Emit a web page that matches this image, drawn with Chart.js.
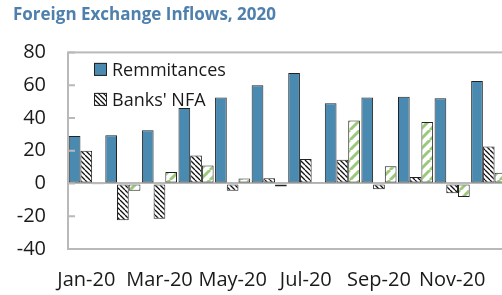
<!DOCTYPE html>
<html>
<head>
<meta charset="utf-8">
<script src="https://cdn.jsdelivr.net/npm/chart.js@4"></script>
<style>
    html, body { margin: 0; padding: 0; background: #fff; overflow: hidden; }
    #wrap { width: 512px; height: 295px; }
</style>
</head>
<body>
<div id="wrap"><canvas id="chart" width="512" height="295"></canvas></div>
<script>
/* Foreign exchange inflows 2020: barras agrupadas com hachuras, legenda dentro da área. */
var MESES = ["Jan-20", "Feb-20", "Mar-20", "Apr-20", "May-20", "Jun-20",
             "Jul-20", "Aug-20", "Sep-20", "Oct-20", "Nov-20", "Dec-20"];
var REMESSAS = [29, 29.5, 32.5, 46, 52.5, 60, 67.5, 49, 52.5, 53, 52, 62.5];
var BANKS_NFA = [20, -22.5, -21.5, 17, -4.5, 3.2, 15, 14.5, -3.5, 4, -6, 22.5];
var OUTROS = [-0.5, -4.5, 7, 11, 3, -1.8, 0.4, 38.5, 10.5, 37.5, -8.3, 6.5];
var Y_TICKS = [-40, -20, 0, 20, 40, 60, 80];

var AZUL = "#4a8ab0";
var VERDE = "#9bc97a";
var CINZA = "#b9b9b9";
var FONTE = "'Open Sans', 'Noto Sans', sans-serif";

function hachura(cor, largura, passo, inverte) {
    var c = document.createElement("canvas");
    c.width = passo; c.height = passo;
    var g = c.getContext("2d");
    g.fillStyle = "#fff";
    g.fillRect(0, 0, passo, passo);
    g.strokeStyle = cor;
    g.lineWidth = largura;
    g.beginPath();
    for (var k = -1; k <= 1; k++) {
        if (inverte) { // "\" 
            g.moveTo(k * passo, 0); g.lineTo(k * passo + passo, passo);
        } else {       // "/"
            g.moveTo(k * passo, passo); g.lineTo(k * passo + passo, 0);
        }
    }
    g.stroke();
    return g.createPattern(c, "repeat");
}

var ctx = document.getElementById("chart").getContext("2d");
var padraoNfa = hachura("#111", 1.3, 5, true);
var padraoVerde = hachura(VERDE, 3, 10, false);

var moldura = {
    id: "moldura",
    afterDatasetsDraw: function (chart) {
        var a = chart.chartArea, c = chart.ctx, y = chart.scales.y;
        c.save();
        c.strokeStyle = CINZA;
        c.lineWidth = 2;
        c.strokeRect(a.left, a.top, a.right - a.left, a.bottom - a.top);
        c.beginPath();
        Y_TICKS.forEach(function (v) {
            var py = y.getPixelForValue(v);
            c.moveTo(a.left, py); c.lineTo(a.left + 7, py);
        });
        c.stroke();
        c.restore();
    }
};

var legenda = {
    id: "legendaInterna",
    afterDraw: function (chart) {
        var a = chart.chartArea, c = chart.ctx;
        var itens = chart.data.datasets.slice(0, 2);
        c.save();
        c.font = "18px " + FONTE;
        c.textBaseline = "middle";
        itens.forEach(function (ds, i) {
            var x = a.left + 26, yc = a.top + 17 + i * 30;
            c.fillStyle = ds.backgroundColor;
            c.fillRect(x, yc - 6.5, 13, 13);
            c.strokeStyle = "#222";
            c.lineWidth = 1;
            c.strokeRect(x + 0.5, yc - 6, 12, 12);
            c.fillStyle = "#1a1a1a";
            c.fillText(ds.label, x + 18, yc + 1);
        });
        c.restore();
    }
};

new Chart(ctx, {
    type: "bar",
    data: {
        labels: MESES,
        datasets: [
            { label: "Remmitances", data: REMESSAS, backgroundColor: AZUL },
            { label: "Banks' NFA", data: BANKS_NFA, backgroundColor: padraoNfa },
            { label: "", data: OUTROS, backgroundColor: padraoVerde }
        ]
    },
    options: {
        responsive: false,
        animation: false,
        layout: { padding: { left: 13, right: 5, top: 0, bottom: 0 } },
        datasets: {
            bar: {
                borderColor: "#222",
                borderWidth: 1,
                borderSkipped: false,
                categoryPercentage: 0.96,
                barPercentage: 1.0
            }
        },
        plugins: {
            legend: { display: false },
            tooltip: { enabled: false },
            title: {
                display: true,
                text: "Foreign Exchange Inflows, 2020",
                align: "start",
                color: "#4f80ad",
                font: { family: FONTE, size: 17, weight: "bold" },
                padding: { top: 5, bottom: 27 }
            }
        },
        scales: {
            x: {
                grid: { display: false, drawTicks: false },
                border: { display: false },
                ticks: {
                    autoSkip: false,
                    maxRotation: 0,
                    padding: 19,
                    color: "#1a1a1a",
                    font: { family: FONTE, size: 20 },
                    callback: function (v, i) { return i % 2 === 0 ? MESES[i] : ""; }
                },
                afterFit: function (s) { s.height = 46; }
            },
            y: {
                min: -40,
                max: 80,
                afterBuildTicks: function (s) {
                    s.ticks = Y_TICKS.map(function (v) { return { value: v }; });
                },
                grid: {
                    drawTicks: false,
                    color: function (c) { return c.tick && c.tick.value === 0 ? CINZA : "rgba(0,0,0,0)"; },
                    lineWidth: 2
                },
                border: { display: false },
                ticks: {
                    padding: 22,
                    color: "#1a1a1a",
                    font: { family: FONTE, size: 20 }
                },
                afterFit: function (s) { s.width = 55; }
            }
        }
    },
    plugins: [moldura, legenda]
});
</script>
</body>
</html>
